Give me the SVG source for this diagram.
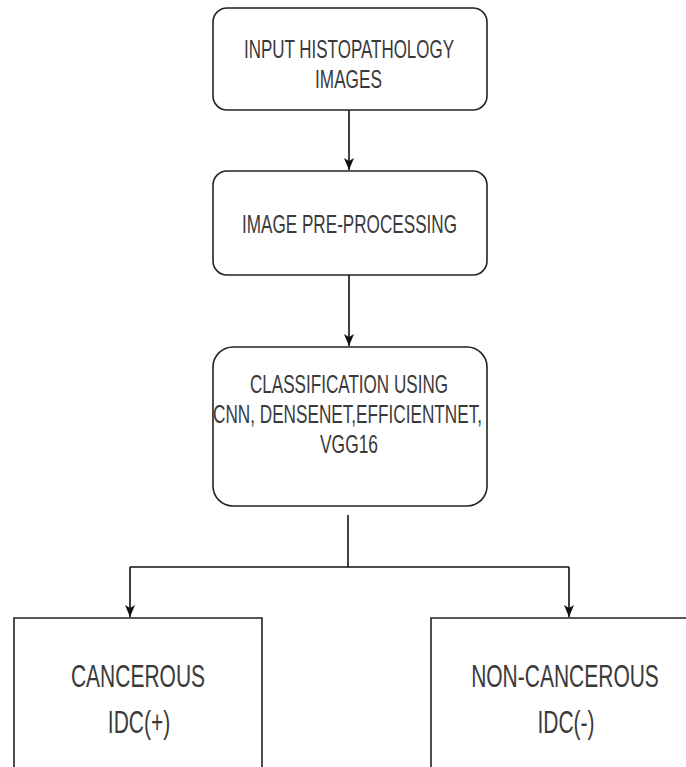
<svg xmlns="http://www.w3.org/2000/svg" width="686" height="767" viewBox="0 0 686 767">
<style>
.box{fill:#fff;stroke:#222;stroke-width:1.6}
.open{fill:none;stroke:#222;stroke-width:1.6}
.t{font-family:"Liberation Sans",Arial,sans-serif;fill:#3a3a3a;text-anchor:middle}
.b{font-size:21px}
.c{fill:none;stroke:#111;stroke-width:1.6}
</style>
<defs>
<marker id="ah" viewBox="0 0 12 10" refX="12" refY="5" markerWidth="12" markerHeight="10" markerUnits="userSpaceOnUse" orient="auto">
<path d="M0,0 L12,5 L0,10 L3,5 Z" fill="#111"/>
</marker>
</defs>
<rect width="686" height="767" fill="#fff"/>
<g id="connectors">
<path class="c" d="M349,110 V170" marker-end="url(#ah)"/>
<path class="c" d="M349,275 V346" marker-end="url(#ah)"/>
<path class="c" d="M348,515 V567"/>
<path class="c" d="M130,567 H569"/>
<path class="c" d="M130,567 V617" marker-end="url(#ah)"/>
<path class="c" d="M569,567 V617" marker-end="url(#ah)"/>
</g>
<g id="input">
<rect class="box" x="213" y="8" width="274" height="102" rx="14"/>
<text class="t" x="349" y="58" font-size="26" textLength="210" lengthAdjust="spacingAndGlyphs">INPUT HISTOPATHOLOGY</text>
<text class="t" x="348.5" y="88" font-size="26" textLength="67" lengthAdjust="spacingAndGlyphs">IMAGES</text>
</g>
<g id="preprocess">
<rect class="box" x="213" y="171" width="274" height="104" rx="14"/>
<text class="t" x="349.5" y="233" font-size="25" textLength="215" lengthAdjust="spacingAndGlyphs">IMAGE PRE-PROCESSING</text>
</g>
<g id="classification">
<rect class="box" x="213" y="347" width="274" height="159" rx="20"/>
<text class="t" x="349" y="393" font-size="25" textLength="198" lengthAdjust="spacingAndGlyphs">CLASSIFICATION USING</text>
<text class="t" x="347.5" y="423" font-size="25" textLength="269" lengthAdjust="spacingAndGlyphs">CNN, DENSENET,EFFICIENTNET,</text>
<text class="t" x="349" y="453" font-size="25" textLength="58" lengthAdjust="spacingAndGlyphs">VGG16</text>
</g>
<g id="cancerous">
<path class="open" d="M14,767 V618 H262 V767"/>
<text class="t b" transform="translate(138,687) scale(1,1.45)">CANCEROUS</text>
<text class="t b" transform="translate(139,733) scale(1,1.45)">IDC(+)</text>
</g>
<g id="noncancerous">
<path class="open" d="M431,767 V618 H686"/>
<text class="t b" transform="translate(565,687) scale(1,1.45)">NON-CANCEROUS</text>
<text class="t b" transform="translate(566,733) scale(1,1.45)">IDC(-)</text>
</g>
</svg>
